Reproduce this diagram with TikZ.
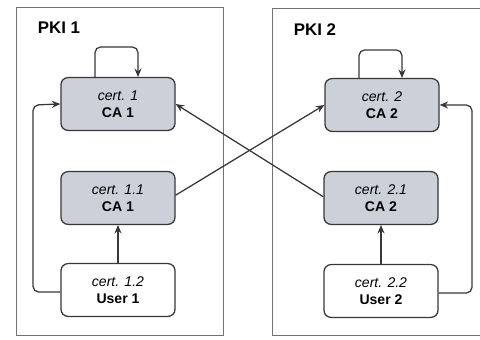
\documentclass[tikz,border=0pt]{standalone}
\usepackage{xcolor}
\usepackage{fontspec}
\setmainfont{Liberation Sans}
\usetikzlibrary{arrows.meta}

\definecolor{cagray}{RGB}{204,208,216}
\definecolor{linegray}{RGB}{55,55,55}

\tikzset{
  pkibox/.style={draw=linegray!70, line width=0.7pt},
  certbox/.style={draw=linegray, line width=0.9pt, rounded corners=5pt,
    minimum width=2.85cm, minimum height=1.32cm, align=center,
    font=\normalsize, inner sep=2pt},
  cabox/.style={certbox, fill=cagray},
  userbox/.style={certbox, fill=white},
  link/.style={draw=linegray, line width=0.9pt, -{Stealth[length=6pt,width=5pt]}},
}

\begin{document}
\begin{tikzpicture}[x=0.25cm, y=-0.25cm]
				\useasboundingbox (0,0) rectangle (48,34);
				\clip (0,0) rectangle (48,34);
				
				\draw[pkibox] (1.6,0.7) rectangle (22.3,33.5);
				\node[font=\bfseries\large] (pki1) at (5.9,2.8) {PKI 1};
				
				\draw[pkibox] (27.2,0.8) rectangle (49,33.5);
				\node[font=\bfseries\large] (pki2) at (31.5,3.0) {PKI 2};
				
				\node[cabox] (c1) at (11.8,10.4) {\textit{cert. 1}\\\textbf{CA 1}};
				\node[cabox] (c11) at (11.8,19.8) {\textit{cert. 1.1}\\\textbf{CA 1}};
				\node[userbox] (c12) at (11.8,29.0) {\textit{cert. 1.2}\\\textbf{User 1}};
				
				\node[cabox] (c2) at (38.2,10.5) {\textit{cert. 2}\\\textbf{CA 2}};
				\node[cabox] (c21) at (38.1,19.8) {\textit{cert. 2.1}\\\textbf{CA 2}};
				\node[userbox] (c22) at (38.1,29.1) {\textit{cert. 2.2}\\\textbf{User 2}};
				
				% self-signed roots
				\draw[link, rounded corners=4pt] ([xshift=-0.575cm]c1.north) -- ++(0,-3.0) -| ([xshift=0.5cm]c1.north);
				\draw[link, rounded corners=4pt] ([xshift=-0.575cm]c2.north) -- ++(0,-2.8) -| ([xshift=0.5cm]c2.north);
				
				% chains inside each PKI
				\draw[link] (c12) -- (c11);
				\draw[link] (c22) -- (c21);
				\draw[link, rounded corners=4pt] ([yshift=-0.05cm]c12.west) -| (3.3,10.5) -- (c1.west);
				\draw[link, rounded corners=4pt] ([yshift=-0.05cm]c22.east) -| (47.2,10.5) -- (c2.east);
				
				% cross certification
				\draw[link] ([yshift=0.07cm]c11.east) -- (c2.west);
				\draw[link] ([yshift=0.03cm]c21.west) -- (c1.east);
			\end{tikzpicture}
\end{document}
